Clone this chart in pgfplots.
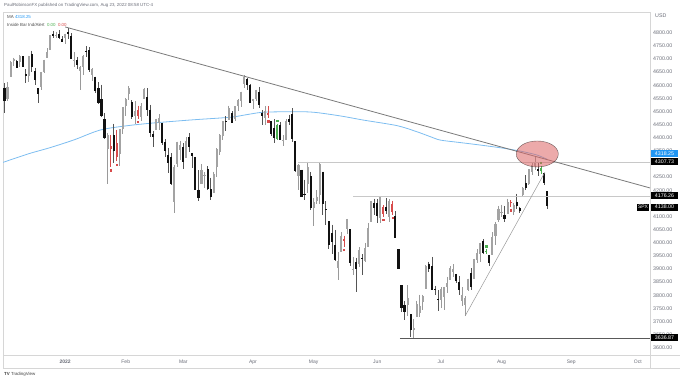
\documentclass[border=0pt]{standalone}
\usepackage{fontspec}
\setmainfont{Liberation Sans}
\usepackage{pgfplots}
\usepackage{pgfplotstable}
\pgfplotsset{compat=1.18}
\definecolor{upc}{HTML}{A3A3A3}
\definecolor{upw}{HTML}{9A9A9A}
\definecolor{dnc}{HTML}{111111}
\definecolor{dnw}{HTML}{555555}
\definecolor{ibr}{HTML}{D84B4B}
\definecolor{ibg}{HTML}{4CAF50}
\definecolor{maline}{HTML}{7DBDF0}
\definecolor{mabox}{HTML}{2196F3}
\definecolor{txt}{HTML}{6A6D78}
\definecolor{framec}{HTML}{D6D6D6}
\definecolor{tl}{HTML}{7A7A7A}
\definecolor{hl}{HTML}{C8C8C8}
\definecolor{ell}{HTML}{DC6464}

% i = trading-day index (0 = 3 Jan 2022); k: 0 up, 1 down, 2 red inside bar, 3 green inside bar
\pgfplotstableread{
i o h l c k
-20 4589.49 4608.03 4495.12 4538.43 1
-19 4548.37 4612.60 4540.51 4591.67 0
-18 4631.97 4694.04 4631.97 4686.75 0
-17 4690.86 4705.06 4674.52 4701.21 0
-16 4691.00 4695.26 4665.98 4667.45 1
-15 4687.64 4713.57 4670.24 4712.02 0
-14 4710.30 4710.30 4667.60 4668.97 1
-13 4642.99 4660.47 4606.52 4634.09 1
-12 4636.46 4712.60 4611.22 4709.85 0
-11 4719.13 4731.99 4651.89 4668.67 1
-10 4652.50 4666.70 4600.22 4620.64 1
-9 4587.90 4587.90 4531.10 4568.02 1
-8 4594.96 4651.14 4583.16 4649.23 0
-7 4650.36 4697.67 4645.53 4696.56 0
-6 4703.96 4740.74 4703.96 4725.79 0
-5 4733.99 4791.49 4733.99 4791.19 0
-4 4795.49 4807.02 4780.04 4786.35 1
-3 4788.64 4804.06 4778.08 4793.06 0
-2 4794.23 4808.93 4775.33 4778.73 1
-1 4775.21 4786.83 4765.75 4766.18 1
0 4778.14 4796.64 4758.17 4796.56 0
1 4804.51 4818.62 4774.27 4793.54 1
2 4787.99 4797.70 4699.44 4700.58 1
3 4693.39 4725.01 4671.26 4696.05 0
4 4697.66 4707.95 4662.74 4677.03 1
5 4655.34 4673.02 4582.24 4670.29 0
6 4669.14 4714.13 4638.27 4713.07 0
7 4728.59 4748.83 4706.71 4726.35 1
8 4733.56 4744.13 4650.29 4659.03 1
9 4637.99 4665.13 4614.75 4662.85 0
10 4632.24 4632.24 4568.70 4577.11 1
11 4588.03 4611.55 4530.20 4532.76 1
12 4547.35 4602.11 4477.95 4482.73 1
13 4471.38 4494.52 4395.34 4397.94 1
14 4356.32 4417.35 4222.62 4410.13 0
15 4366.64 4411.01 4287.11 4356.45 2
16 4408.43 4453.23 4304.80 4349.93 1
17 4380.58 4428.74 4309.50 4326.51 2
18 4336.19 4432.72 4292.46 4431.85 0
19 4431.79 4516.89 4414.02 4515.55 0
20 4519.57 4550.49 4483.53 4546.54 0
21 4566.39 4595.31 4544.32 4589.38 0
22 4535.41 4542.88 4470.39 4477.44 1
23 4482.79 4539.66 4451.50 4500.53 0
24 4505.75 4521.86 4471.47 4483.87 2
25 4480.02 4531.32 4465.40 4521.54 0
26 4547.00 4590.03 4547.00 4587.18 0
27 4553.24 4588.92 4484.31 4504.08 1
28 4506.27 4526.33 4401.41 4418.64 1
29 4412.61 4426.22 4364.84 4401.67 1
30 4429.28 4472.77 4429.28 4471.07 0
31 4455.75 4489.55 4429.68 4475.01 0
32 4456.06 4456.06 4373.81 4380.26 1
33 4384.57 4394.60 4327.22 4348.87 1
34 4332.74 4362.12 4267.11 4304.76 1
35 4324.93 4341.51 4221.51 4225.50 1
36 4155.77 4294.73 4114.65 4288.70 0
37 4298.38 4385.34 4286.83 4384.65 0
38 4354.17 4388.84 4315.12 4373.94 0
39 4363.14 4378.45 4279.54 4306.26 1
40 4322.56 4401.48 4322.56 4386.54 0
41 4401.31 4416.78 4345.56 4363.49 1
42 4342.12 4342.12 4284.98 4328.87 1
43 4327.01 4327.01 4199.85 4201.09 1
44 4202.66 4276.94 4157.87 4170.70 1
45 4223.10 4299.40 4223.10 4277.88 0
46 4252.55 4268.28 4209.80 4259.52 0
47 4279.50 4291.20 4200.49 4204.31 1
48 4202.75 4247.57 4161.72 4173.11 1
49 4188.82 4271.05 4187.90 4262.45 0
50 4288.14 4358.90 4251.99 4357.86 0
51 4345.11 4412.67 4335.65 4411.67 0
52 4407.34 4465.40 4390.57 4463.12 0
53 4462.40 4481.75 4424.30 4461.18 1
54 4469.10 4522.00 4469.10 4511.61 0
55 4493.10 4501.07 4455.81 4456.24 1
56 4469.98 4520.58 4465.17 4520.16 0
57 4522.66 4546.03 4501.07 4543.06 0
58 4541.09 4575.65 4517.69 4575.52 0
59 4602.86 4637.30 4589.66 4631.60 0
60 4624.20 4627.77 4581.32 4602.45 1
61 4599.02 4603.07 4530.41 4530.41 1
62 4540.32 4548.70 4507.57 4545.86 0
63 4547.97 4583.50 4539.21 4582.64 0
64 4572.45 4593.45 4514.17 4525.12 1
65 4494.17 4503.94 4450.04 4481.15 1
66 4474.65 4521.16 4450.30 4500.21 0
67 4494.15 4520.41 4474.60 4488.28 2
68 4462.64 4464.35 4408.38 4412.53 1
69 4437.59 4471.00 4381.34 4397.45 1
70 4394.30 4453.92 4392.70 4446.59 3
71 4449.12 4460.46 4390.77 4392.59 1
72 4385.63 4410.31 4370.30 4391.69 0
73 4390.63 4471.03 4390.63 4462.21 0
74 4472.26 4488.29 4448.76 4459.45 1
75 4489.17 4512.94 4384.47 4393.66 1
76 4385.83 4385.83 4267.62 4271.78 1
77 4255.34 4299.02 4200.82 4296.12 0
78 4278.14 4278.14 4175.04 4175.20 1
79 4186.52 4240.71 4162.90 4183.96 1
80 4222.58 4308.45 4188.63 4287.50 0
81 4253.75 4269.68 4124.28 4131.93 1
82 4130.61 4169.81 4062.51 4155.38 0
83 4159.78 4200.10 4147.08 4175.48 0
84 4181.18 4307.66 4148.91 4300.17 0
85 4270.43 4270.43 4106.01 4146.87 1
86 4128.17 4157.69 4067.91 4123.34 1
87 4081.27 4081.27 3975.48 3991.24 1
88 4035.18 4068.82 3958.17 4001.05 1
89 3990.08 4049.09 3928.82 3935.18 1
90 3903.95 3964.80 3858.87 3930.08 0
91 3963.90 4038.88 3963.90 4023.89 0
92 4013.02 4026.97 3983.99 4008.01 2
93 4052.00 4090.72 4033.93 4088.85 0
94 4051.98 4051.98 3911.91 3923.68 1
95 3899.00 3945.96 3876.58 3900.79 0
96 3927.76 3943.42 3810.32 3901.36 1
97 3919.42 3981.88 3909.04 3973.75 0
98 3942.94 3955.68 3875.13 3941.48 1
99 3929.59 3999.33 3925.03 3978.73 0
100 3984.60 4075.14 3984.60 4057.84 0
101 4077.43 4158.49 4077.43 4158.24 0
102 4151.09 4168.34 4104.88 4132.15 1
103 4149.78 4166.54 4073.85 4101.23 1
104 4095.41 4177.51 4074.37 4176.82 0
105 4137.57 4142.67 4098.67 4108.54 2
106 4134.72 4168.78 4109.18 4121.43 1
107 4096.47 4164.86 4080.19 4160.68 0
108 4147.12 4160.14 4107.20 4115.77 2
109 4101.65 4119.10 4017.17 4017.82 1
110 3974.39 3974.39 3900.16 3900.86 1
111 3838.15 3838.15 3734.30 3749.63 1
112 3763.52 3778.18 3705.68 3735.48 1
113 3764.05 3837.56 3722.30 3789.99 0
114 3728.18 3728.18 3639.77 3666.77 1
115 3665.90 3707.71 3636.87 3674.84 0
116 3715.31 3779.65 3715.31 3764.79 0
117 3733.89 3801.79 3717.69 3759.89 0
118 3774.71 3802.58 3743.52 3795.73 0
119 3821.75 3913.65 3821.75 3911.74 0
120 3920.76 3927.72 3889.66 3900.11 1
121 3913.00 3945.86 3820.14 3821.55 1
122 3825.09 3836.50 3799.02 3818.83 1
123 3785.99 3818.99 3738.67 3785.38 1
124 3781.00 3829.82 3752.10 3825.33 0
125 3792.61 3832.19 3742.06 3831.39 0
126 3831.98 3870.91 3809.37 3845.08 0
127 3858.85 3910.63 3858.85 3902.62 0
128 3888.26 3918.50 3869.34 3899.38 0
129 3880.94 3880.94 3847.22 3854.43 1
130 3851.95 3873.41 3802.36 3818.80 1
131 3779.67 3829.44 3758.89 3801.78 0
132 3763.99 3796.41 3721.56 3790.38 0
133 3818.00 3863.62 3817.18 3863.16 0
134 3883.79 3902.44 3818.63 3830.85 1
135 3860.73 3939.81 3860.73 3936.69 0
136 3935.32 3974.13 3922.03 3959.90 0
137 3955.47 3999.29 3927.64 3998.95 0
138 4007.66 4012.44 3955.77 3961.63 1
139 3965.72 3975.30 3958.46 3966.84 3
140 3953.22 3953.22 3910.74 3921.05 1
141 3951.43 4039.56 3951.43 4023.61 0
142 4026.13 4078.95 3992.97 4072.43 0
143 4087.33 4140.15 4079.22 4130.29 0
144 4112.38 4144.95 4096.02 4118.63 0
145 4104.21 4140.47 4079.81 4091.19 1
146 4107.96 4167.66 4107.96 4155.17 0
147 4154.85 4161.29 4135.42 4151.94 2
148 4115.87 4151.58 4107.31 4145.19 0
149 4155.93 4186.62 4128.97 4140.06 1
150 4133.11 4137.30 4112.09 4122.47 1
151 4181.02 4211.03 4177.26 4210.24 0
152 4227.40 4257.91 4201.41 4207.27 1
153 4225.02 4280.47 4219.78 4280.15 0
154 4269.37 4301.79 4256.90 4297.14 0
155 4290.46 4325.28 4277.77 4305.20 0
156 4280.40 4302.18 4253.08 4274.04 1
157 4273.13 4292.53 4261.98 4283.74 3
158 4266.31 4266.31 4218.70 4228.48 1
159 4195.08 4195.08 4129.86 4137.99 1
}\spx

\pgfplotsset{
  wick/.style={draw=none, mark=none, forget plot,
    error bars/.cd, y dir=minus, y explicit, error mark=none,
    error bar style={line width=0.6pt, draw=#1}},
  body/.style={draw=none, mark=none, forget plot,
    error bars/.cd, y dir=minus, y explicit, error mark=none,
    error bar style={line width=2.1pt, draw=#1}},
}
\newcommand\candles[3]{%
  \addplot[restrict expr to domain={\thisrow{k}}{#1}, wick=#2]
    table[x=i, y=h, y error expr=\thisrow{h}-\thisrow{l}] {\spx};
  \addplot[restrict expr to domain={\thisrow{k}}{#1}, body=#3]
    table[x=i, y expr={max(\thisrow{o},\thisrow{c})},
          y error expr={max(abs(\thisrow{o}-\thisrow{c}),3)}] {\spx};
}

\begin{document}
\begin{tikzpicture}
\useasboundingbox (0,0) rectangle (680pt,380pt);
\begin{axis}[
  at={(3pt,25pt)}, anchor=south west,
  scale only axis, width=647pt, height=343pt,
  xmin=-20.5, xmax=193, ymin=3572.2, ymax=4878.9,
  axis line style={draw=framec},
  tick style={draw=none},
  ytick={3600,3650,...,4100,4200,4250,4350,4400,...,4800},
  yticklabel pos=right,
  y tick label style={font=\fontsize{5.3}{6}\selectfont, text=txt, anchor=west,
    inner sep=0pt, xshift=3pt,
    /pgf/number format/.cd, fixed, fixed zerofill, precision=2, 1000 sep={},
    assume math mode=true},
  xtick={0,20,39,62,82,103,124,144,167,189},
  xticklabels={\textbf{2022},Feb,Mar,Apr,May,Jun,Jul,Aug,Sep,Oct},
  x tick label style={font=\fontsize{5}{6}\selectfont, text=txt, inner sep=0pt, yshift=-4.5pt},
]
% 200-day moving average
\addplot[maline, line width=0.8pt, smooth] coordinates {
 (-20.5,4306) (-12,4339) (-5,4362) (3,4392) (11.5,4429) (20,4445) (29,4456)
 (42,4468) (54.5,4478) (60,4488) (65.4,4497) (75.3,4499) (82,4497) (90.8,4483)
 (98.5,4467) (109.5,4446) (116,4423) (120.5,4404) (123.8,4391) (130,4382)
 (137,4372) (144,4361) (150.2,4349) (155.7,4334) (159,4318)};
% candles
\candles{-0.5:0.5}{upw}{upc}
\candles{0.5:1.5}{dnw}{dnc}
\candles{1.5:2.5}{ibr}{ibr}
\candles{2.5:3.5}{ibg}{ibg}
% inside-bar alert dots
\addplot[only marks, mark=square*, mark size=0.7pt, ibr] coordinates {
 (15,4276) (17,4298) (24,4460) (67,4463) (92,3973) (105,4087) (108,4096) (147,4124)};
\addplot[only marks, mark=square*, mark size=0.7pt, ibg] coordinates {
 (70,4465) (139,3987) (157,4304)};
% horizontal levels
\addplot[hl, line width=0.6pt] coordinates {(77,4307.73) (193,4307.73)};
\addplot[hl, line width=0.6pt] coordinates {(95,4176.26) (193,4176.26)};
\addplot[black!65, line width=0.7pt] coordinates {(110.5,3636.87) (193,3636.87)};
% trend lines
\addplot[tl, line width=0.8pt] coordinates {(0,4822) (193,4208.6)};
\addplot[black!40, line width=0.5pt] coordinates {(132,3721) (158.3,4268)};
% highlight ellipse
\addplot[only marks, mark=*, mark size=13pt,
  mark options={xscale=1.62, fill=ell, draw=none, opacity=0.55}] coordinates {(155.8,4338)};
\coordinate (b1) at (axis cs:193,4338);
\coordinate (b2) at (axis cs:193,4307.73);
\coordinate (b3) at (axis cs:193,4178);
\coordinate (b4) at (axis cs:193,4136);
\coordinate (b5) at (axis cs:193,3637);
\end{axis}
\tikzset{lab/.style={anchor=west, inner sep=0pt, minimum height=7pt, minimum width=27pt,
  font=\fontsize{5.3}{6}\selectfont, text=white, xshift=0.8pt}}
\node[lab, fill=mabox] at (b1) {4318.25};
\node[lab, fill=black] at (b2) {4307.73};
\node[lab, fill=black] at (b3) {4176.26};
\node[lab, fill=black] at (b4) {4138.00};
\node[anchor=east, inner sep=0pt, minimum height=7pt, minimum width=12pt, fill=black,
  text=white, font=\fontsize{5}{6}\selectfont, xshift=-0.8pt] at (b4) {SPX};
\node[lab, fill=black] at (b5) {3636.87};
% frame pieces
\draw[framec, line width=0.5pt] (650pt,12pt) -- (650pt,25pt);
\draw[framec, line width=0.5pt] (3pt,12pt) -- (680pt,12pt);
\draw[framec, line width=0.5pt] (3pt,12pt) -- (3pt,25pt);
\draw[framec, line width=0.5pt] (650pt,25pt) -- (680pt,25pt);
% texts
\node[anchor=west, font=\fontsize{5.3}{6}\selectfont, text=txt, inner sep=0pt] at (655pt,364pt) {USD};
\node[anchor=west, font=\fontsize{4.4}{5}\selectfont, text=txt, inner sep=0pt] at (4pt,375pt)
  {PaulRobinsonFX published on TradingView.com, Aug 23, 2022 08:58 UTC-4};
\node[anchor=west, font=\fontsize{4.4}{5}\selectfont, text=black!70, inner sep=0pt] at (7pt,363pt)
  {MA \textcolor{mabox}{4318.25}};
\node[anchor=west, font=\fontsize{4.4}{5}\selectfont, text=black!70, inner sep=0pt] at (7pt,355pt)
  {Inside Bar Ind/Alert\ \ \textcolor{ibg}{0.00}\ \ \textcolor{ibr}{0.00}};
\node[anchor=west, font=\fontsize{4.4}{5}\selectfont, text=black!75, inner sep=0pt] at (4pt,6pt)
  {\textbf{TV} TradingView};
\end{tikzpicture}
\end{document}
